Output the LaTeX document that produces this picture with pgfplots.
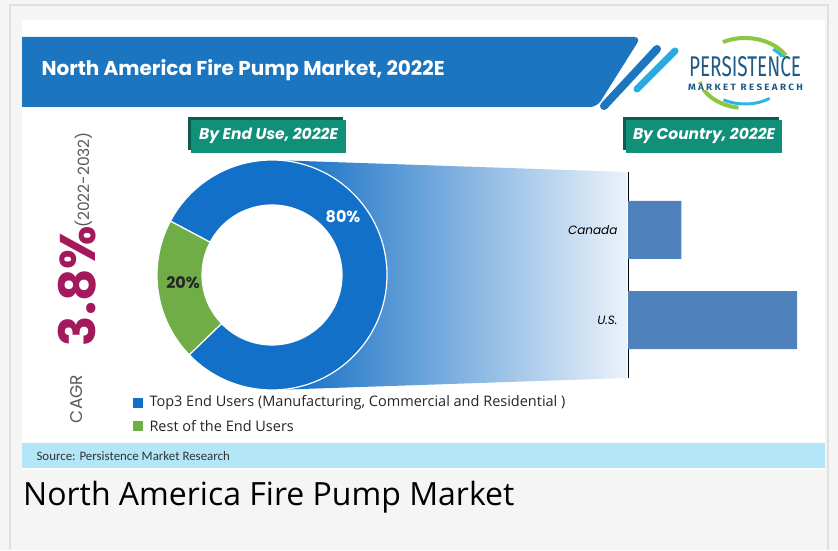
\documentclass[border=0pt]{standalone}
\usepackage{graphicx}
\usepackage{pgfplots}
\pgfplotsset{compat=1.18}
\usepackage{pgfplotstable}
\usepackage{fontspec}
\setmainfont{Open Sans}
\newfontfamily\pop{Poppins}
\newfontfamily\carl{Carlito}
\newfontfamily\fira{Fira Sans}
\definecolor{outerbg}{HTML}{F5F5F5}
\definecolor{frameline}{HTML}{E0E0E0}
\definecolor{bannerblue}{HTML}{1B75BF}
\definecolor{stripelight}{HTML}{29ABE2}
\definecolor{tealbox}{HTML}{119079}
\definecolor{tealdark}{HTML}{0B5E4F}
\definecolor{donutblue}{HTML}{1270C8}
\definecolor{donutgreen}{HTML}{70AD47}
\definecolor{barblue}{HTML}{4F81BD}
\definecolor{cagrmag}{HTML}{A3195B}
\definecolor{greytext}{HTML}{595959}
\definecolor{sourcebar}{HTML}{B3E6F7}
\definecolor{logoblue}{HTML}{1E5A88}
\definecolor{logogreen}{HTML}{8DC63F}
\definecolor{logocyan}{HTML}{29B6E8}
\definecolor{funL}{RGB}{10,105,195}
\definecolor{funM}{RGB}{120,175,225}
\definecolor{funR}{RGB}{235,242,250}

\pgfplotstableread{
segment share
Rest 20
Top3 80
}\enduse
\pgfplotstableread{
y value
0 76
1 24
}\countrydata

\begin{document}
\begin{tikzpicture}
\begin{scope}[x=1pt,y=1pt]
\fill[outerbg] (0,0) rectangle (838,550);
\draw[frameline, line width=1.5pt] (10,0) -- (10,545) -- (828,545) -- (828,0);
\fill[white] (22,550-470) rectangle (825,550-20);
% banner
\fill[bannerblue, rounded corners=7pt] (22,550-37) -- (641,550-37) -- (597,550-107) [sharp corners] -- (22,550-107) -- cycle;
\draw[bannerblue, line width=8pt, line cap=round] (657,550-49) -- (604,550-106);
\draw[stripelight, line width=7pt, line cap=round] (675,550-51) -- (637,550-89);
\node[anchor=west, text=white, font=\pop\bfseries\fontsize{20}{20}\selectfont] at (38,550-70) {North America Fire Pump Market, 2022E};
% logo
\draw[logogreen, line width=4pt] ([shift={(30:47 and 35)}]745,550-73) arc[start angle=30, end angle=118, x radius=47, y radius=35];
\draw[logocyan, line width=3pt] ([shift={(5:44 and 31)}]745,550-73) arc[start angle=5, end angle=50, x radius=44, y radius=31];
\draw[logogreen, line width=4pt] ([shift={(195:47 and 35)}]745,550-73) arc[start angle=195, end angle=262, x radius=47, y radius=35];
\draw[logocyan, line width=3pt] ([shift={(240:43 and 31)}]745,550-73) arc[start angle=240, end angle=305, x radius=43, y radius=31];
\node[inner sep=0pt, fill=white, text=logoblue] at (745,550-67) {\resizebox{112pt}{20pt}{\fira PERSISTENCE}};
\node[inner sep=0pt, fill=white, text=logoblue] at (745.5,550-87) {\resizebox{115pt}{6.5pt}{\fira\bfseries M A R K E T\ \ R E S E A R C H}};
% badges
\fill[tealdark] (188,550-117) rectangle (343,550-150);
\fill[tealbox] (191,550-120) rectangle (346,550-153);
\node[text=white, font=\pop\bfseries\itshape\fontsize{15.5}{15.5}\selectfont] at (268.5,550-136) {By End Use, 2022E};
\fill[tealdark] (623,550-117) rectangle (779,550-150);
\fill[tealbox] (626,550-120) rectangle (782,550-153);
\node[text=white, font=\pop\bfseries\itshape\fontsize{15.5}{15.5}\selectfont] at (704,550-136) {By Country, 2022E};
% CAGR
\node[rotate=90, anchor=base, text=greytext, font=\pop\fontsize{17}{17}\selectfont] at (82,550-399) {CAGR};
\node[rotate=90, anchor=base, text=cagrmag, font=\pop\bfseries\fontsize{50}{50}\selectfont] at (95,550-286) {3.8\%};
\node[rotate=90, anchor=base, text=greytext, font=\pop\fontsize{15.5}{15.5}\selectfont] at (89,550-180) {(2022-2032)};
% funnel
\shade[left color=funL, middle color=funM, right color=funR] (272,550-160) -- (627,550-172) -- (627,550-378) -- (272,550-390) -- cycle;
\end{scope}
% donut
\pgfplotstablegetelem{0}{share}\of\enduse \let\restshare\pgfplotsretval
\pgfmathsetmacro\sA{152}
\pgfmathsetmacro\sB{152+3.6*\restshare}
\pgfmathsetmacro\sC{152+360}
\begin{axis}[at={(272pt,275pt)}, anchor=center, scale only axis, width=240pt, height=240pt,
  xmin=-120, xmax=120, ymin=-120, ymax=120, hide axis, clip=false]
\fill[white] (axis cs:0,0) circle[radius=72];
\filldraw[fill=donutgreen, draw=white, line width=1.2pt] (axis cs:{115*cos(\sA)},{115*sin(\sA)}) arc[start angle=\sA, end angle=\sB, radius=115] -- (axis cs:{70*cos(\sB)},{70*sin(\sB)}) arc[start angle=\sB, end angle=\sA, radius=70] -- cycle;
\filldraw[fill=donutblue, draw=white, line width=1.2pt] (axis cs:{115*cos(\sB)},{115*sin(\sB)}) arc[start angle=\sB, end angle=\sC, radius=115] -- (axis cs:{70*cos(\sC)},{70*sin(\sC)}) arc[start angle=\sC, end angle=\sB, radius=70] -- cycle;
\node[text=white, font=\pop\bfseries\fontsize{16}{16}\selectfont] at (axis cs:71,58) {80\%};
\node[text=black!85, font=\pop\bfseries\fontsize{16}{16}\selectfont] at (axis cs:-89,-8) {20\%};
\end{axis}
% bar chart
\begin{axis}[at={(628pt,172pt)}, anchor=south west, scale only axis, width=172pt, height=206pt,
  xbar, bar width=58pt, xmin=0, xmax=77.35, ymin=-0.644, ymax=1.644,
  axis lines*=left, hide x axis, axis line style={-, black, line width=0.8pt},
  ytick={0,1}, yticklabels={U.S.,Canada}, major tick length=0pt,
  yticklabel style={font=\pop\itshape\fontsize{12}{12}\selectfont, text=black, xshift=-7pt}]
\addplot[fill=barblue, draw=none] table[x=value, y=y] {\countrydata};
\end{axis}
\begin{scope}[x=1pt,y=1pt]
% legend
\fill[donutblue] (133,550-398) rectangle (143,550-408);
\node[anchor=west, font=\fontsize{14.5}{14.5}\selectfont, text=black!85] at (146,550-403) {Top3 End Users (Manufacturing, Commercial and Residential )};
\fill[donutgreen] (133,550-421) rectangle (143,550-431);
\node[anchor=west, font=\fontsize{14.5}{14.5}\selectfont, text=black!85] at (146,550-426) {Rest of the End Users};
% source
\fill[sourcebar] (22,550-443) rectangle (825,550-468);
\node[anchor=west, font=\carl\fontsize{12.9}{12.9}\selectfont, text=black!80] at (33,550-456) {Source: Persistence Market Research};
% caption
\node[anchor=base west, font=\fontsize{32}{32}\selectfont, text=black, inner sep=0pt] at (23,550-505) {North America Fire Pump Market};
\end{scope}
\pgfresetboundingbox
\path[use as bounding box] (0,0) rectangle (838pt,550pt);
\end{tikzpicture}
\end{document}
